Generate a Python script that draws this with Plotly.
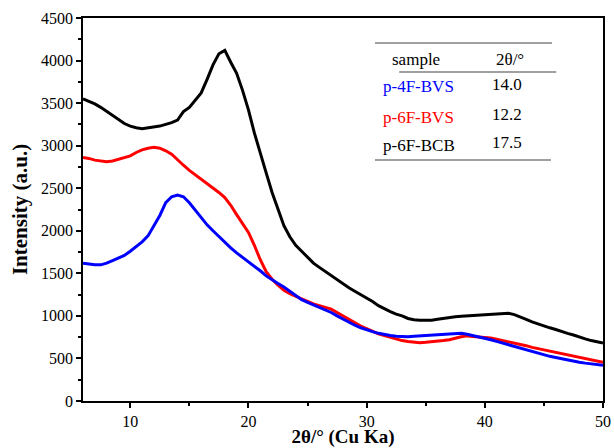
import plotly.graph_objects as go

two_theta = [6 + 0.5 * i for i in range(89)]

bcb = [3550, 3520, 3490, 3450, 3400, 3360, 3300, 3260, 3230, 3210,
       3200, 3210, 3220, 3230, 3250, 3270, 3300, 3400, 3450, 3530,
       3620, 3780, 3950, 4080, 4120, 3980, 3850, 3650, 3420, 3150,
       2900, 2680, 2450, 2250, 2060, 1930, 1830, 1760, 1690, 1620,
       1570, 1520, 1470, 1420, 1380, 1330, 1290, 1250, 1210, 1170,
       1120, 1080, 1050, 1020, 1000, 970, 955, 950, 950, 950,
       960, 970, 985, 990, 995, 1000, 1005, 1010, 1015, 1020,
       1025, 1030, 1030, 1015, 990, 960, 930, 905, 880, 860,
       840, 815, 795, 775, 750, 730, 710, 695, 680]

bvs6 = [2860, 2850, 2830, 2820, 2810, 2820, 2840, 2860, 2880, 2920,
        2950, 2970, 2980, 2970, 2940, 2900, 2830, 2770, 2710, 2660,
        2610, 2560, 2510, 2450, 2390, 2300, 2190, 2090, 1980, 1830,
        1660, 1520, 1430, 1360, 1300, 1260, 1230, 1200, 1170, 1140,
        1120, 1100, 1080, 1040, 1000, 960, 920, 880, 850, 820,
        790, 770, 750, 730, 710, 700, 690, 685, 690, 695,
        700, 710, 720, 740, 755, 765, 760, 755, 750, 740,
        725, 710, 695, 685, 670, 650, 630, 615, 600, 590,
        575, 560, 545, 530, 515, 500, 485, 470, 455]

bvs4 = [1620, 1610, 1600, 1600, 1620, 1650, 1680, 1710, 1760, 1810,
        1870, 1940, 2060, 2180, 2330, 2400, 2420, 2400, 2330, 2240,
        2150, 2070, 2000, 1930, 1860, 1800, 1740, 1690, 1640, 1590,
        1530, 1470, 1420, 1380, 1340, 1290, 1240, 1190, 1160, 1130,
        1100, 1070, 1040, 1000, 960, 920, 890, 860, 835, 815,
        795, 780, 770, 760, 755, 755, 760, 765, 770, 775,
        780, 785, 790, 795, 795, 785, 770, 755, 740, 720,
        700, 680, 660, 640, 625, 605, 585, 565, 545, 525,
        510, 495, 480, 465, 455, 445, 435, 428, 420]

samples = ["p-4F-BVS", "p-6F-BVS", "p-6F-BCB"]
peaks = ["14.0", "12.2", "17.5"]
colors = ["#0000ff", "#ff0000", "#000000"]

FONT = "Liberation Serif"

fig = go.Figure()
for name, ys, c in [("p-6F-BCB", bcb, "#000000"), ("p-6F-BVS", bvs6, "#ff0000"),
                    ("p-4F-BVS", bvs4, "#0000ff")]:
    fig.add_trace(go.Scatter(x=two_theta, y=ys, mode="lines", name=name,
                             line=dict(color=c, width=3), showlegend=False))

fig.update_layout(
    width=614, height=448,
    margin=dict(l=83, r=11, t=18, b=47, autoexpand=False),
    paper_bgcolor="white", plot_bgcolor="white",
    font=dict(family=FONT, size=16, color="black"),
)
fig.update_xaxes(
    range=[6, 50], tickvals=[10, 20, 30, 40, 50], automargin=False,
    showline=True, linecolor="black", linewidth=1.5, mirror=True,
    ticks="outside", ticklen=5, tickwidth=1.5, tickcolor="black",
    minor=dict(tickvals=[15, 25, 35, 45], ticks="outside", ticklen=3, tickwidth=1.5, tickcolor="black"),
    showgrid=False, zeroline=False,
    tickfont=dict(family=FONT, size=16),
    title=dict(text="<b>2θ/° (Cu Ka)</b>", font=dict(family=FONT, size=19), standoff=6),
)
fig.update_yaxes(
    range=[0, 4500], dtick=500, automargin=False,
    showline=True, linecolor="black", linewidth=1.5, mirror=True,
    ticks="outside", ticklen=5, tickwidth=1.5, tickcolor="black",
    minor=dict(dtick=250, ticks="outside", ticklen=3, tickwidth=1.5, tickcolor="black"),
    showgrid=False, zeroline=False,
    tickfont=dict(family=FONT, size=16),
    title=dict(text="<b>Intensity (a.u.)</b>", font=dict(family=FONT, size=21), standoff=8),
)

# table lines
for x0, x1, y in [(0.5615, 0.902, 0.935), (0.608, 0.910, 0.859), (0.5615, 0.900, 0.629)]:
    fig.add_shape(type="line", xref="paper", yref="paper", x0=x0, x1=x1, y0=y, y1=y,
                  line=dict(color="#808080", width=1.5))

fig.add_annotation(x=0.640, y=0.891, xref="paper", yref="paper", text="sample",
                   xanchor="center", yanchor="middle",
                   showarrow=False, font=dict(family=FONT, size=17, color="black"))
fig.add_annotation(x=0.821, y=0.891, xref="paper", yref="paper", text="2θ/°",
                   xanchor="center", yanchor="middle",
                   showarrow=False, font=dict(family=FONT, size=17, color="black"))
row_y = [0.820, 0.7415, 0.668]
for s, p, c, yy in zip(samples, peaks, colors, row_y):
    fig.add_annotation(x=0.573, y=yy, xref="paper", yref="paper", text=s,
                       xanchor="left", yanchor="middle",
                       showarrow=False, font=dict(family=FONT, size=17, color=c))
    fig.add_annotation(x=0.815, y=yy + 0.006, xref="paper", yref="paper", text=p,
                       xanchor="center", yanchor="middle",
                       showarrow=False, font=dict(family=FONT, size=17, color="black"))

fig.write_html(
    "out.html",
    config={"displayModeBar": False},
    post_script="document.body.style.margin='0';document.body.style.padding='0';"
                "document.body.style.overflow='hidden';",
)
